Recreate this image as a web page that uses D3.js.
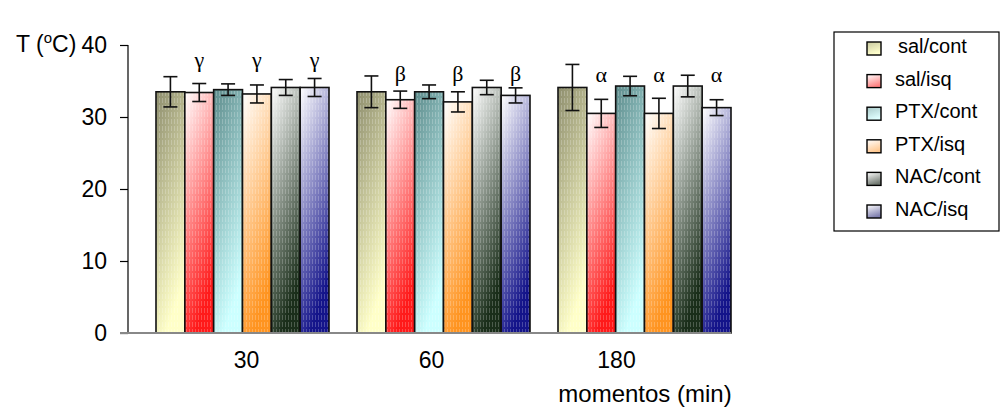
<!DOCTYPE html>
<html><head><meta charset="utf-8">
<script src="https://cdnjs.cloudflare.com/ajax/libs/d3/7.8.5/d3.min.js"></script>
<style>
html,body{margin:0;padding:0;background:#fff;}
text{font-family:Arial,"Liberation Sans",sans-serif;}
</style></head>
<body>
<svg id="chart" width="1000" height="412"></svg>
<script>
const categories = ["30", "60", "180"];
const series = ["sal/cont", "sal/isq", "PTX/cont", "PTX/isq", "NAC/cont", "NAC/isq"];
const means = [
  [33.5, 33.4, 33.8, 33.2, 34.1, 34.1],
  [33.5, 32.4, 33.5, 32.1, 34.1, 33.0],
  [34.1, 30.5, 34.3, 30.5, 34.3, 31.3]
];
const errors = [
  [2.1, 1.25, 0.8, 1.25, 1.1, 1.25],
  [2.2, 1.2, 0.95, 1.4, 1.0, 1.05],
  [3.2, 1.95, 1.35, 2.1, 1.5, 1.1]
];
const sigLetters = ["γ", "β", "α"];
const sigLevel = [37.0, 35.0, 34.9];
const yTicks = [0, 10, 20, 30, 40];

const gradColors = [
  ["#8e8e6e", "#ffffc8"],
  ["#ffffff", "#ff1a1a"],
  ["#5e8c8c", "#ccffff"],
  ["#ffffff", "#ff9420"],
  ["#ffffff", "#1a2e1a"],
  ["#ffffff", "#14148a"]
];
const legendColors = [
  ["#c8c8a0", "#ffffcc"],
  ["#ffffff", "#ff8080"],
  ["#a8c8c8", "#e0ffff"],
  ["#ffffff", "#ffc890"],
  ["#ffffff", "#707870"],
  ["#ffffff", "#8080b0"]
];

const FONT = "Arial, 'Liberation Sans', sans-serif";
const svg = d3.select("#chart");
const defs = svg.append("defs");
function addGrad(id, c) {
  const g = defs.append("linearGradient").attr("id", id)
    .attr("x1", "0").attr("y1", "0").attr("x2", "0.35").attr("y2", "1");
  g.append("stop").attr("offset", "0").attr("stop-color", c[0]);
  g.append("stop").attr("offset", "1").attr("stop-color", c[1]);
}
gradColors.forEach((c, i) => addGrad("g" + i, c));
legendColors.forEach((c, i) => addGrad("lgd" + i, c));
const pat = defs.append("pattern").attr("id", "tex").attr("patternUnits", "userSpaceOnUse")
  .attr("width", 3).attr("height", 7);
pat.append("rect").attr("x", 1).attr("y", 0).attr("width", 1).attr("height", 5)
  .attr("fill", "#fff").attr("opacity", 0.22);

const x0 = d3.scaleBand().domain(categories).range([128, 731]);
const x1 = d3.scaleBand().domain(series).range([28, x0.bandwidth()]);
const y = d3.scaleLinear().domain([0, 40]).range([333, 45]);
const xLabel = d3.scalePoint().domain(categories).range([246, 616]);

// y axis
const yAxis = svg.append("g").attr("transform", "translate(128,0)")
  .call(d3.axisLeft(y).tickValues(yTicks).tickSize(8).tickPadding(13));
yAxis.select(".domain").attr("stroke", "#000").attr("stroke-width", 1.2).attr("d", "M0,45V333");
yAxis.selectAll(".tick line").attr("stroke", "#000").attr("stroke-width", 1.2);
yAxis.selectAll(".tick text").attr("font-size", 23).attr("fill", "#000").style("font-family", FONT);

// groups
const groups = svg.selectAll("g.grp").data(categories).enter().append("g")
  .attr("class", "grp").attr("transform", d => `translate(${x0(d)},0)`);

groups.each(function(cat, ci) {
  const g = d3.select(this);
  series.forEach((s, si) => {
    const v = means[ci][si];
    g.append("rect").attr("x", x1(s)).attr("y", y(v)).attr("width", x1.bandwidth())
      .attr("height", y(0) - y(v)).attr("fill", `url(#g${si})`);
    g.append("rect").attr("x", x1(s)).attr("y", y(v)).attr("width", x1.bandwidth())
      .attr("height", y(0) - y(v)).attr("fill", "url(#tex)")
      .attr("stroke", "#111").attr("stroke-width", 1.6);
  });
  series.forEach((s, si) => {
    const v = means[ci][si], e = errors[ci][si];
    const cx = x1(s) + x1.bandwidth() / 2;
    const eg = g.append("g").attr("stroke", "#111").attr("stroke-width", 1.6);
    eg.append("line").attr("x1", cx).attr("x2", cx).attr("y1", y(v + e)).attr("y2", y(v - e));
    eg.append("line").attr("x1", cx - 7).attr("x2", cx + 7).attr("y1", y(v + e)).attr("y2", y(v + e));
    eg.append("line").attr("x1", cx - 7).attr("x2", cx + 7).attr("y1", y(v - e)).attr("y2", y(v - e));
    if (si % 2 === 1) {
      g.append("text").attr("x", cx).attr("y", y(sigLevel[ci])).attr("text-anchor", "middle")
        .attr("font-size", 22).style("font-family", "'Liberation Serif','DejaVu Serif',serif")
        .text(sigLetters[ci]);
    }
  });
});

// x axis
const xAxis = svg.append("g").attr("transform", "translate(0,333)")
  .call(d3.axisBottom(xLabel).tickSize(0).tickPadding(19));
xAxis.select(".domain").attr("stroke", "#888").attr("stroke-width", 2).attr("d", "M120,0H731");
xAxis.selectAll(".tick text").attr("font-size", 23).attr("fill", "#000").style("font-family", FONT);

// axis titles
const yt = svg.append("text").attr("x", 16).attr("y", 52).attr("font-size", 23);
yt.append("tspan").text("T (");
yt.append("tspan").attr("font-size", 15).attr("dy", -9).text("o");
yt.append("tspan").attr("dy", 9).text("C)");
svg.append("text").attr("x", 645).attr("y", 402).attr("text-anchor", "middle")
  .attr("font-size", 24).text("momentos (min)");

// legend
const lg = svg.append("g");
lg.append("rect").attr("x", 834).attr("y", 32).attr("width", 165).attr("height", 199)
  .attr("fill", "#fff").attr("stroke", "#000").attr("stroke-width", 1.2);
const ly = d3.scalePoint().domain(series).range([46, 209]);
series.forEach((s, i) => {
  lg.append("rect").attr("x", 867).attr("y", ly(s) - 4).attr("width", 14).attr("height", 13)
    .attr("fill", `url(#lgd${i})`).attr("stroke", "#000").attr("stroke-width", 1.4);
  lg.append("text").attr("x", i === 0 ? 898 : 895).attr("y", ly(s) + 7).attr("font-size", 20).text(s);
});
</script>
</body></html>
